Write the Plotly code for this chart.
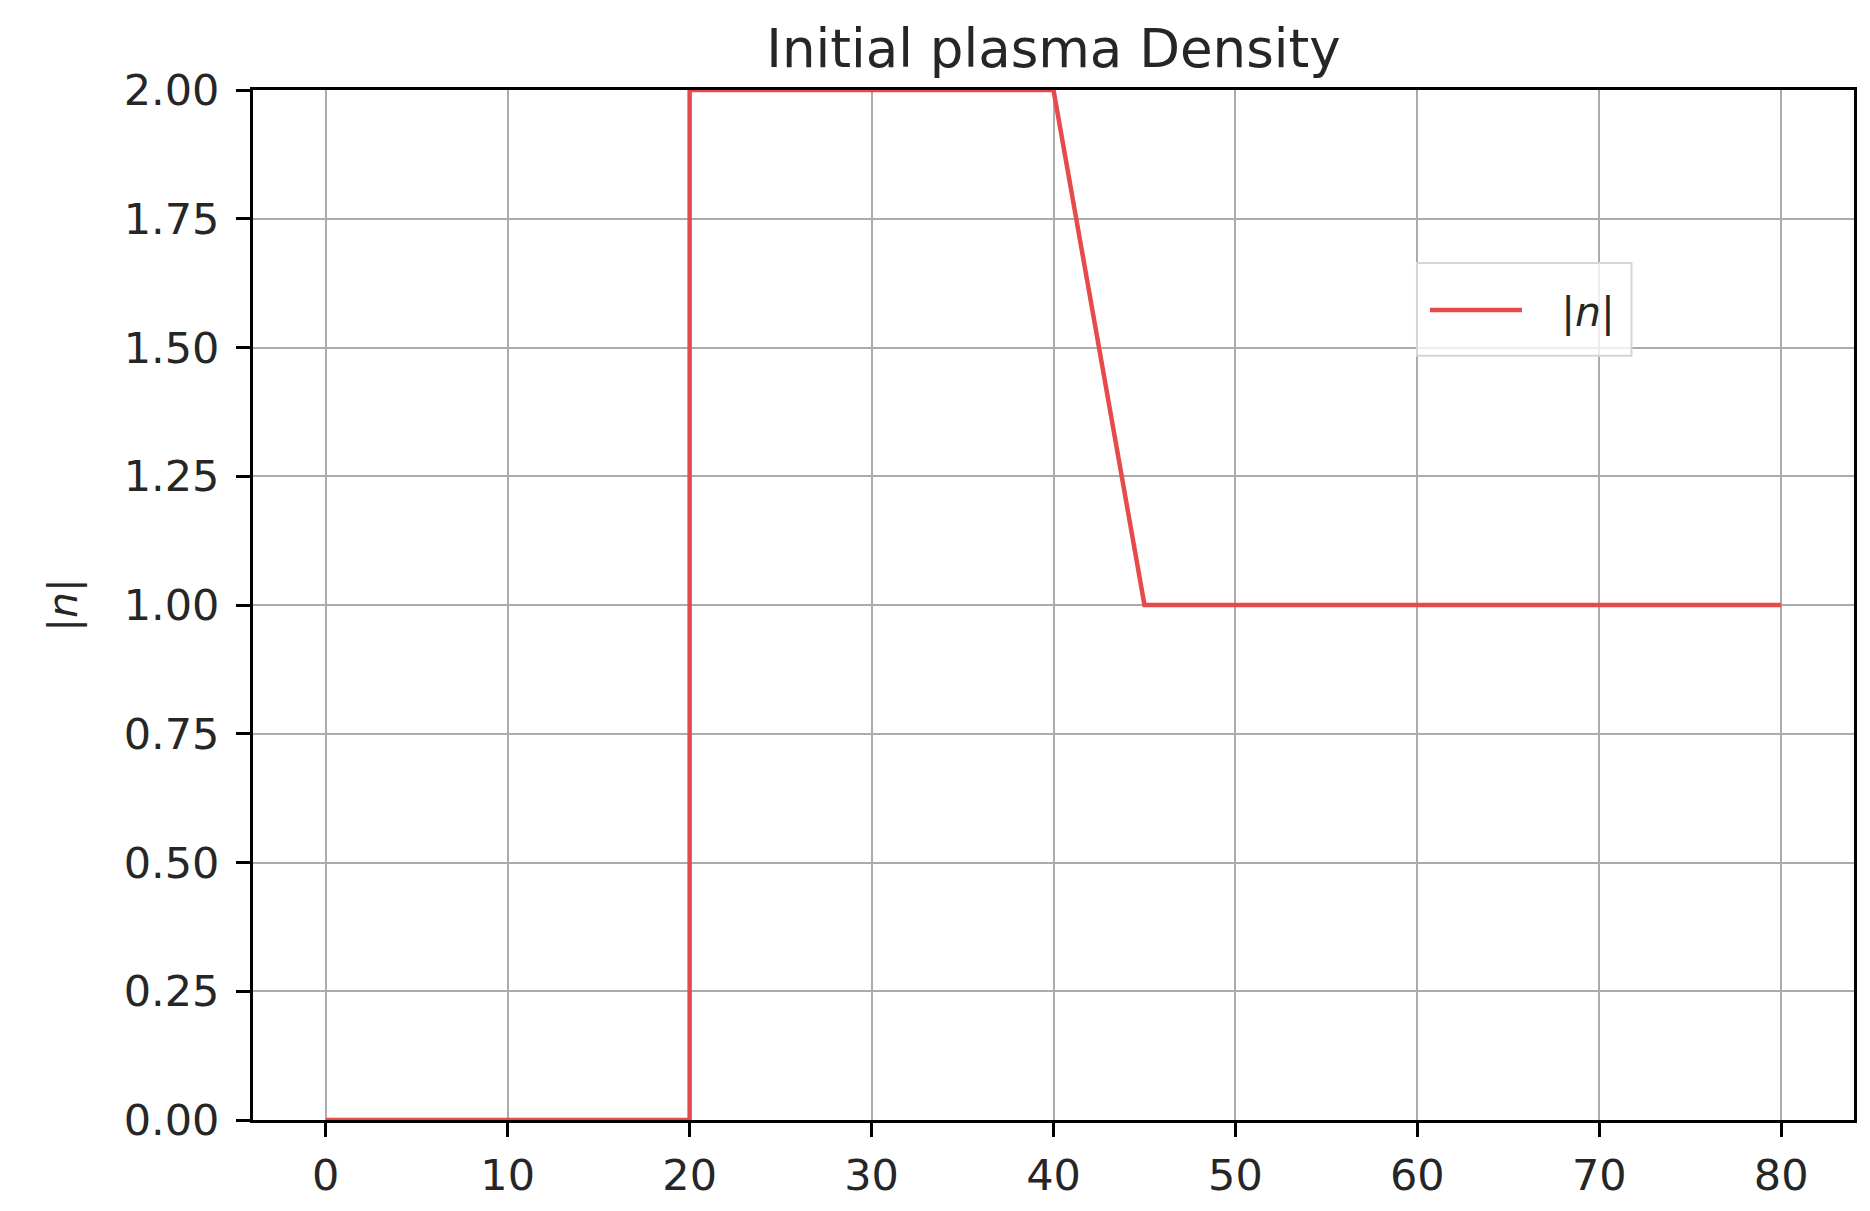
import plotly.graph_objects as go

# Initial density profile |n| along x: vacuum, plateau, linear ramp, background
x_pos = [0, 20, 20, 40, 45, 80]
density = [0.0, 0.0, 2.0, 2.0, 1.0, 1.0]

x_ticks = [0, 10, 20, 30, 40, 50, 60, 70, 80]
y_ticks = [0.0, 0.25, 0.5, 0.75, 1.0, 1.25, 1.5, 1.75, 2.0]

FONT = "DejaVu Sans"
TEXT = "#262626"
GRID = "#ababab"
GAP = "\u00a0\u00a0\u2009"  # spacing between legend line and its label

fig = go.Figure()
fig.add_trace(go.Scatter(
    x=x_pos, y=density, mode="lines", name=GAP + "|<i>n</i>|",
    line=dict(color="#e64a4a", width=4.5),
))

axis_common = dict(
    showline=True, linecolor="black", linewidth=3, mirror=True,
    ticks="outside", ticklen=14, tickwidth=3, tickcolor="black",
    showgrid=True, gridcolor=GRID, gridwidth=2,
    zeroline=False, automargin=False,
    tickfont=dict(family=FONT, size=43, color=TEXT),
)

# frame around the legend entry (semi-transparent like a matplotlib legend)
fig.add_shape(
    type="rect", xref="paper", yref="paper",
    x0=0.727, x1=0.861, y0=0.742, y1=0.832,
    fillcolor="rgba(255,255,255,0.8)", line=dict(color="#d5d5d5", width=2),
    layer="above",
)

fig.update_layout(
    width=1870, height=1211,
    margin=dict(l=253, r=16, t=90, b=91),
    paper_bgcolor="white", plot_bgcolor="white",
    font=dict(family=FONT, color=TEXT),
    title=dict(
        text="Initial plasma Density",
        x=0.5, xref="paper", xanchor="center",
        y=1 - 48 / 1211, yref="container", yanchor="middle",
        font=dict(family=FONT, size=53, color=TEXT),
    ),
    xaxis=dict(range=[-4, 84], tickvals=x_ticks, ticklabelstandoff=1, **axis_common),
    yaxis=dict(
        range=[0, 2], tickvals=y_ticks, tickformat=".2f", ticklabelstandoff=8,
        title=dict(text="|<i>n</i>|", standoff=34,
                   font=dict(family=FONT, size=41, color=TEXT)),
        **axis_common,
    ),
    showlegend=True,
    legend=dict(
        x=0.732, y=0.786, xanchor="left", yanchor="middle",
        bgcolor="rgba(0,0,0,0)", borderwidth=0,
        font=dict(family=FONT, size=41, color=TEXT),
        itemwidth=92,
    ),
)

fig.write_html("out.html")
